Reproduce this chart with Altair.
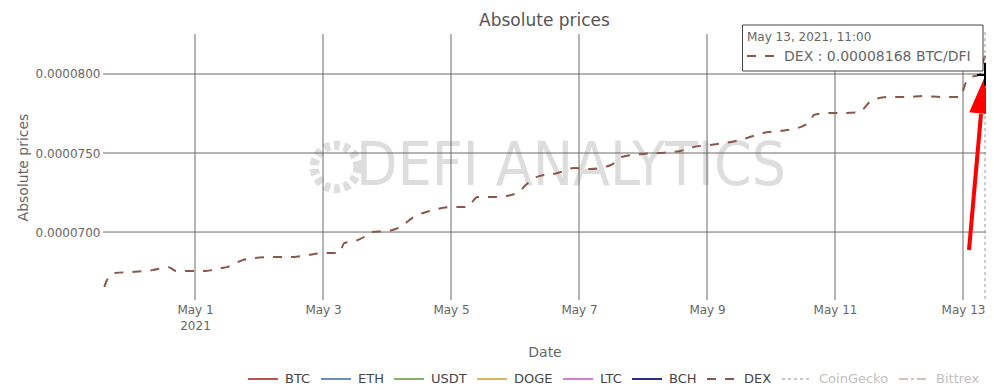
import altair as alt
import pandas as pd

# ---------------- data ----------------
dex_times = [
    "2021-04-29 14:00", "2021-04-29 15:00", "2021-04-29 18:00", "2021-04-30 00:00",
    "2021-04-30 05:00", "2021-04-30 08:00", "2021-04-30 14:00", "2021-04-30 17:00",
    "2021-05-01 00:00", "2021-05-01 04:00", "2021-05-01 10:00", "2021-05-01 12:00",
    "2021-05-01 18:00", "2021-05-01 22:00", "2021-05-02 06:00", "2021-05-02 13:00",
    "2021-05-02 18:00", "2021-05-03 01:00", "2021-05-03 06:00", "2021-05-03 08:00",
    "2021-05-03 12:00", "2021-05-03 16:00", "2021-05-03 18:00", "2021-05-04 00:00",
    "2021-05-04 05:00", "2021-05-04 10:00", "2021-05-04 16:00", "2021-05-05 00:00",
    "2021-05-05 06:00", "2021-05-05 10:00", "2021-05-05 17:00", "2021-05-06 01:00",
    "2021-05-06 04:00", "2021-05-06 09:00", "2021-05-06 16:00", "2021-05-06 22:00",
    "2021-05-07 04:00", "2021-05-07 12:00", "2021-05-07 16:00", "2021-05-08 00:00",
    "2021-05-08 06:00", "2021-05-08 14:00", "2021-05-08 19:00", "2021-05-09 01:00",
    "2021-05-09 09:00", "2021-05-09 15:00", "2021-05-09 21:00", "2021-05-10 03:00",
    "2021-05-10 10:00", "2021-05-10 15:00", "2021-05-10 16:00", "2021-05-10 21:00",
    "2021-05-11 04:00", "2021-05-11 09:00", "2021-05-11 14:00", "2021-05-11 20:00",
    "2021-05-12 03:00", "2021-05-12 09:00", "2021-05-12 16:00", "2021-05-12 23:00",
    "2021-05-13 01:00", "2021-05-13 03:00", "2021-05-13 06:00", "2021-05-13 08:00",
    "2021-05-13 11:00",
]
dex_values = [
    6.652e-5, 6.696e-5, 6.741e-5, 6.747e-5,
    6.753e-5, 6.759e-5, 6.778e-5, 6.753e-5,
    6.753e-5, 6.754e-5, 6.772e-5, 6.778e-5,
    6.823e-5, 6.835e-5, 6.842e-5, 6.842e-5,
    6.854e-5, 6.867e-5, 6.867e-5, 6.930e-5,
    6.943e-5, 6.975e-5, 7.000e-5, 7.006e-5,
    7.032e-5, 7.095e-5, 7.133e-5, 7.158e-5,
    7.158e-5, 7.222e-5, 7.222e-5, 7.247e-5,
    7.297e-5, 7.354e-5, 7.373e-5, 7.405e-5,
    7.399e-5, 7.424e-5, 7.475e-5, 7.494e-5,
    7.500e-5, 7.513e-5, 7.538e-5, 7.551e-5,
    7.570e-5, 7.595e-5, 7.627e-5, 7.639e-5,
    7.658e-5, 7.709e-5, 7.741e-5, 7.753e-5,
    7.753e-5, 7.759e-5, 7.835e-5, 7.854e-5,
    7.854e-5, 7.861e-5, 7.854e-5, 7.854e-5,
    7.943e-5, 7.981e-5, 7.994e-5, 8.101e-5,
    8.168e-5,
]
series_names = ["BTC", "ETH", "USDT", "DOGE", "LTC", "BCH", "DEX", "CoinGecko", "Bittrex"]
hidden_series = ["CoinGecko", "Bittrex"]
y_ticks = [0.00007, 0.000075, 0.00008]
x_tick_days = [1, 3, 5, 7, 9, 11, 13]
y_domain = [6.570e-5, 8.253e-5]
hover_label = "May 13, 2021, 11:00"
hover_value = "DEX : 0.00008168 BTC/DFI"
watermark = "DEFI ANALYTICS"

# ---------------- styles ----------------
series_colors = ["#b85450", "#6c8ebf", "#82b366", "#d6b656", "#d67fc8",
                 "#2c2c80", "#8c564b", "#c8c8c8", "#d8bfbb"]
series_dashes = [[1, 0]] * 6 + [[9, 9], [3, 3], [9, 3, 3, 3]]
FONT = "DejaVu Sans"
W, H = 883, 266

df = pd.DataFrame({"Date": pd.to_datetime(dex_times), "price": dex_values, "series": "DEX"})
xtick_df = pd.DataFrame({"Date": [pd.Timestamp(2021, 5, d) for d in x_tick_days]})
ytick_df = pd.DataFrame({"price": y_ticks})
one = pd.DataFrame({"k": [0]})

x_scale = alt.Scale(domain=[alt.DateTime(year=2021, month=4, date=29, hours=13, minutes=30),
                            alt.DateTime(year=2021, month=5, date=13, hours=8, minutes=37, seconds=30)],
                    nice=False)
y_scale = alt.Scale(domain=y_domain, nice=False, zero=False)

hidden_list = "[" + ",".join(f"'{s}'" for s in hidden_series) + "]"
legend = alt.Legend(
    title=None, orient="none", legendX=144, legendY=329, direction="horizontal",
    columns=len(series_names), symbolType="stroke", symbolSize=900, symbolStrokeWidth=2,
    labelFont=FONT, labelFontSize=13, labelOffset=6, columnPadding=6,
    labelColor={"expr": f"indexof({hidden_list}, datum.value) >= 0 ? '#c0c0c0' : '#444444'"},
)

x_axis = alt.Axis(
    values=[alt.DateTime(year=2021, month=5, date=d) for d in x_tick_days],
    labelExpr="timeFormat(datum.value, '%-d') == '1' ? [timeFormat(datum.value, '%b %-d'), '2021'] : timeFormat(datum.value, '%b %-d')",
    title="Date", labelPadding=4, titlePadding=14, labelLineHeight=16, labelBaseline="top",
)
y_axis = alt.Axis(values=y_ticks, format=".7f", title="Absolute prices", labelPadding=3, titlePadding=5)

# watermark
wm_text = alt.Chart(one).mark_text(
    text=watermark, font="DejaVu Sans Condensed, Liberation Sans Narrow, DejaVu Sans",
    fontSize=60, color="#dddddd", align="center", baseline="middle"
).encode(x=alt.value(468), y=alt.value(133))
wm_logo = alt.Chart(one).mark_point(
    shape="circle", size=1900, stroke="#dddddd", strokeWidth=9, strokeDash=[6, 4], opacity=1
).encode(x=alt.value(233), y=alt.value(133))

# grid
xgrid = alt.Chart(xtick_df).mark_rule(color="#6a6a6a", strokeWidth=1).encode(
    x=alt.X("Date:T", scale=x_scale, axis=x_axis))
ygrid = alt.Chart(ytick_df).mark_rule(color="#6a6a6a", strokeWidth=1).encode(
    y=alt.Y("price:Q", scale=y_scale, axis=y_axis))

line = alt.Chart(df).mark_line(strokeWidth=2, interpolate="monotone", clip=True).encode(
    x=alt.X("Date:T", scale=x_scale, axis=x_axis),
    y=alt.Y("price:Q", scale=y_scale, axis=y_axis),
    color=alt.Color("series:N", scale=alt.Scale(domain=series_names, range=series_colors), legend=legend),
    strokeDash=alt.StrokeDash("series:N", scale=alt.Scale(domain=series_names, range=series_dashes), legend=legend),
)

# hover annotation (spike line, cursor, tooltip box)
spike = alt.Chart(one).mark_rule(color="#999", strokeWidth=1, strokeDash=[3, 3]).encode(
    x=alt.value(882), y=alt.value(-2), y2=alt.value(H))
box = alt.Chart(one).mark_rect(fill="white", stroke="#444", strokeWidth=1).encode(
    x=alt.value(639.5), x2=alt.value(880), y=alt.value(-9), y2=alt.value(37))
box_t1 = alt.Chart(one).mark_text(text=hover_label, font=FONT, fontSize=12, color="#666",
                                  align="left", baseline="alphabetic").encode(
    x=alt.value(644), y=alt.value(7))
box_dash = alt.Chart(one).mark_rule(color="#8c564b", strokeWidth=2, strokeDash=[9, 9]).encode(
    x=alt.value(644), x2=alt.value(672), y=alt.value(22))
box_t2 = alt.Chart(one).mark_text(text=hover_value, font=FONT, fontSize=14, color="#666",
                                  align="left", baseline="alphabetic").encode(
    x=alt.value(681), y=alt.value(27))
cross_h = alt.Chart(one).mark_rule(color="black", strokeWidth=2).encode(
    x=alt.value(874), x2=alt.value(883), y=alt.value(41))
cross_v = alt.Chart(one).mark_rule(color="black", strokeWidth=2).encode(
    x=alt.value(882), y=alt.value(29), y2=alt.value(52))

# red arrow
arrow_shaft = alt.Chart(one).mark_rule(color="#ff0000", strokeWidth=4).encode(
    x=alt.value(866), y=alt.value(216), x2=alt.value(878), y2=alt.value(80))
arrow_head = alt.Chart(one).mark_point(
    shape="M0,-0.97L0.61,0.97L-0.61,0.97Z", size=1296, filled=True, color="#ff0000",
    opacity=1, angle=6).encode(x=alt.value(879), y=alt.value(62))

chart = alt.layer(
    wm_logo, wm_text, xgrid, ygrid, line, spike, box, box_t1, box_dash, box_t2,
    arrow_shaft, arrow_head, cross_h, cross_v
).properties(
    width=W, height=H,
    title=alt.TitleParams("Absolute prices", font=FONT, fontSize=17, color="#555",
                          fontWeight="normal", anchor="middle", offset=6, dy=11),
    autosize=alt.AutoSizeParams(type="none"),
    padding={"left": 95, "top": 26, "right": 0, "bottom": 88},
).configure_view(strokeWidth=0).configure_axis(
    domain=False, ticks=False, grid=False,
    labelFont=FONT, labelFontSize=12, labelColor="#666",
    titleFont=FONT, titleFontSize=14, titleColor="#666", titleFontWeight="normal",
)

chart.save("out.html", embed_options={"renderer": "svg", "actions": False})
